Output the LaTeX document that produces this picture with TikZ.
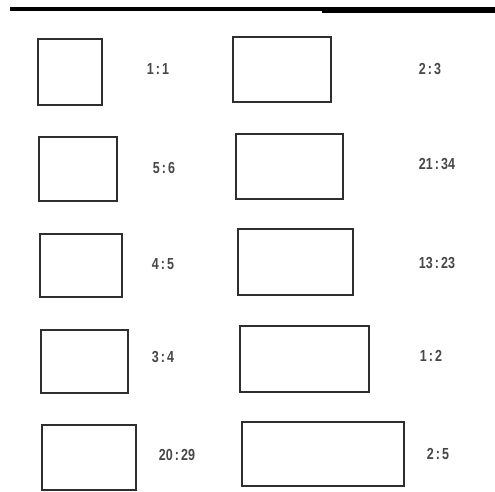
\documentclass[tikz,border=0pt]{standalone}
\usepackage{fontspec}
\setmainfont{Liberation Sans}
\begin{document}
\begin{tikzpicture}[x=1pt,y=-1pt,
  box/.style={draw=black!82, line width=2pt},
  lbl/.style={text=black!72, font=\bfseries\fontsize{16}{18}\selectfont, xscale=0.78, inner sep=0pt},
  bar/.style={fill=black, draw=none}]
\useasboundingbox (0,0) rectangle (495,492);
\fill[bar] (10,7) rectangle (322,11.5);
\fill[bar] (322,7) rectangle (495,13);
% left column
\draw[box] (38,39) rectangle (102,105);
\draw[box] (39,137) rectangle (117,201);
\draw[box] (40,234) rectangle (122,297);
\draw[box] (41,330) rectangle (128,393);
\draw[box] (42,425) rectangle (136,490);
% right column
\draw[box] (233,37) rectangle (331,102);
\draw[box] (236,134) rectangle (343,199);
\draw[box] (238,229) rectangle (353,295);
\draw[box] (240,326) rectangle (369,392);
\draw[box] (242,422) rectangle (404,486);
% labels
\node[lbl] (l1) at (158,69) {1\,:\,1};
\node[lbl] (l2) at (164,168) {5\,:\,6};
\node[lbl] (l3) at (163,264) {4\,:\,5};
\node[lbl] (l4) at (163,357) {3\,:\,4};
\node[lbl] (l5) at (177,455) {20\,:\,29};
\node[lbl] (r1) at (430,69) {2\,:\,3};
\node[lbl] (r2) at (437,164) {21\,:\,34};
\node[lbl] (r3) at (437,263) {13\,:\,23};
\node[lbl] (r4) at (431,356) {1\,:\,2};
\node[lbl] (r5) at (438,454) {2\,:\,5};
\end{tikzpicture}
\end{document}
